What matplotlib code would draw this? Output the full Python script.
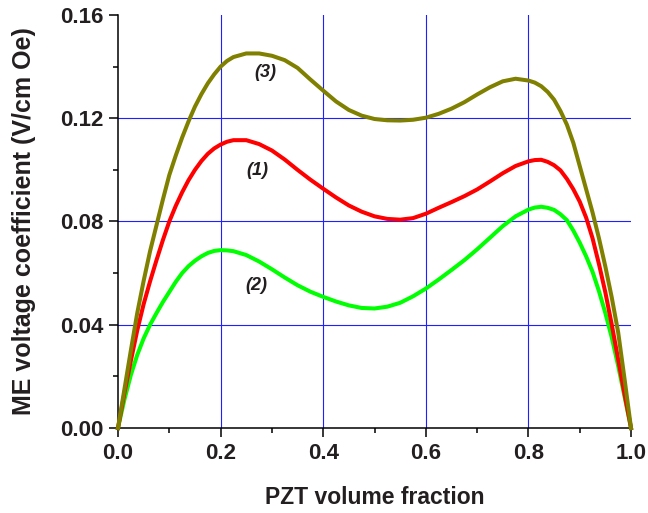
import matplotlib
matplotlib.use('Agg')
import matplotlib.pyplot as plt
from matplotlib.ticker import MultipleLocator

# fração volumétrica de PZT (passo mais fino nas bordas)
frac = [0, 0.0125, 0.025, 0.0375, 0.05, 0.0625, 0.075, 0.0875, 0.1, 0.1125, 0.125, 0.1375,
        0.15, 0.1625, 0.175, 0.1875, 0.2, 0.2125, 0.225,
        0.25, 0.275, 0.3, 0.325, 0.35, 0.375, 0.4, 0.425, 0.45, 0.475, 0.5, 0.525, 0.55,
        0.575, 0.6, 0.625, 0.65, 0.675, 0.7, 0.725, 0.75, 0.775, 0.8, 0.8125, 0.825, 0.8375, 0.85,
        0.8625, 0.875, 0.8875, 0.9, 0.9125, 0.925, 0.9375, 0.95, 0.9625, 0.975, 0.9875, 1.0]

# coeficiente ME (V/cm Oe) de cada curva
me_1 = [0, 0.0135, 0.026, 0.0378, 0.048, 0.0568, 0.065, 0.0728, 0.080, 0.0860, 0.0913, 0.0960,
        0.1000, 0.1034, 0.1062, 0.1083, 0.1098, 0.1109, 0.1115,
        0.1115, 0.1100, 0.1075, 0.1040, 0.1000, 0.0962, 0.0927, 0.0893, 0.0862, 0.0838, 0.0820, 0.0810, 0.0807,
        0.0813, 0.0830, 0.0853, 0.0875, 0.0898, 0.0924, 0.0955, 0.0987, 0.1015, 0.1033, 0.1038, 0.1039, 0.1031, 0.1018,
        0.0998, 0.0965, 0.0925, 0.0877, 0.0815, 0.0735, 0.0635, 0.0525, 0.0400, 0.0265, 0.0130, 0]
me_2 = [0, 0.011, 0.0205, 0.0283, 0.0347, 0.0400, 0.0445, 0.0488, 0.0527, 0.0566, 0.0600, 0.0627,
        0.0648, 0.0665, 0.0678, 0.0686, 0.0689, 0.0688, 0.0685,
        0.0670, 0.0645, 0.0615, 0.0583, 0.0553, 0.0528, 0.0508, 0.0490, 0.0475, 0.0465, 0.0463, 0.0470, 0.0485,
        0.0510, 0.0540, 0.0575, 0.0612, 0.0650, 0.0692, 0.0737, 0.0782, 0.0820, 0.0846, 0.0854, 0.0857, 0.0853, 0.0845,
        0.0828, 0.0805, 0.0765, 0.0718, 0.0665, 0.0605, 0.0530, 0.0445, 0.0350, 0.0240, 0.0120, 0]
me_3 = [0, 0.015, 0.030, 0.0445, 0.057, 0.0685, 0.0785, 0.0885, 0.098, 0.1055, 0.1125, 0.1188,
        0.1245, 0.1293, 0.1335, 0.1370, 0.1400, 0.1422, 0.1437,
        0.1451, 0.1451, 0.1442, 0.1425, 0.1395, 0.1350, 0.1307, 0.1265, 0.1232, 0.1210, 0.1197, 0.1192, 0.1191,
        0.1194, 0.1202, 0.1217, 0.1237, 0.1262, 0.1292, 0.1320, 0.1343, 0.1353, 0.1346, 0.1338, 0.1324, 0.1302, 0.1272,
        0.1228, 0.1175, 0.1105, 0.1015, 0.0925, 0.0835, 0.0735, 0.0625, 0.0505, 0.0370, 0.0188, 0]

labels = ['(1)', '(2)', '(3)']
label_pos = [(0.271, 0.0998), (0.269, 0.0553), (0.287, 0.1377)]

plt.rcParams['font.family'] = ['Liberation Sans', 'DejaVu Sans']
txt = '#231f20'

fig = plt.figure(figsize=(6.48, 5.13), dpi=100)
ax = fig.add_axes([0.1821, 0.1657, 0.7917, 0.8051])

ax.plot(frac, me_2, color='#00ff00', lw=2.9, clip_on=False, zorder=3)
ax.plot(frac, me_1, color='#ff0000', lw=2.9, clip_on=False, zorder=4)
ax.plot(frac, me_3, color='#808000', lw=2.9, clip_on=False, zorder=5)

for lab, (x, y) in zip(labels, label_pos):
    ax.text(x, y, lab, fontsize=13, fontweight='bold', fontstyle='italic',
            color=txt, ha='center', va='center', zorder=6)

ax.set_xlim(0, 1)
ax.set_ylim(0, 0.16)
ax.xaxis.set_major_locator(MultipleLocator(0.2))
ax.xaxis.set_minor_locator(MultipleLocator(0.1))
ax.yaxis.set_major_locator(MultipleLocator(0.04))
ax.yaxis.set_minor_locator(MultipleLocator(0.02))
ax.set_xticklabels(['%.1f' % v for v in ax.get_xticks()])
ax.set_yticklabels(['%.2f' % v for v in ax.get_yticks()])

# grade só nas posições internas
for v in [0.2, 0.4, 0.6, 0.8]:
    ax.axvline(v, color='#2020ff', lw=0.8, zorder=1)
for v in [0.04, 0.08, 0.12]:
    ax.axhline(v, color='#2020ff', lw=0.8, zorder=1)

ax.spines['top'].set_visible(False)
ax.spines['right'].set_visible(False)
for s in ['left', 'bottom']:
    ax.spines[s].set_linewidth(1.1)
ax.tick_params(which='major', direction='out', length=6.5, width=1.1, pad=4,
               labelsize=16, labelcolor=txt)
ax.tick_params(which='minor', direction='out', length=3.6, width=1.1)
for t in ax.get_xticklabels() + ax.get_yticklabels():
    t.set_fontweight('bold')

ax.set_xlabel('PZT volume fraction', fontsize=16.5, fontweight='bold', color=txt, labelpad=16)
ax.set_ylabel('ME voltage coefficient (V/cm Oe)', fontsize=18, fontweight='bold', color=txt, labelpad=17)

plt.savefig('out.png', dpi=100)
